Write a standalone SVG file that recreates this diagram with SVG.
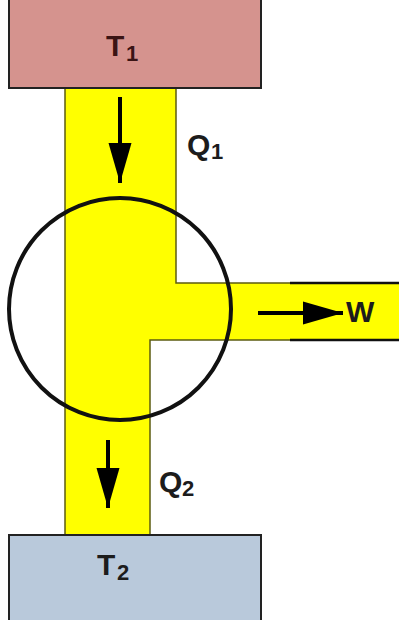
<svg xmlns="http://www.w3.org/2000/svg" width="399" height="620" viewBox="0 0 399 620">
<defs>
<style>
.lbl{font-family:"Liberation Sans",Arial,sans-serif;font-weight:bold;fill:#1c1c1c;font-size:30px}
.sub{font-family:"Liberation Sans",Arial,sans-serif;font-weight:bold;fill:#1c1c1c;font-size:22px}
.band{fill:#ffff00;stroke:none}
.edge{stroke:#5c5c10;stroke-width:1.5;fill:none}
.edgek{stroke:#111;stroke-width:2.5;fill:none}
.arrow{stroke:#000;stroke-width:4;fill:none;marker-end:url(#head)}
.box{stroke:#222;stroke-width:2}
</style>
<marker id="head" markerUnits="userSpaceOnUse" markerWidth="42" markerHeight="24" refX="40" refY="12" orient="auto">
<path d="M0,0.5 L40,12 L0,23.5 z" fill="#000"/>
</marker>
</defs>
<rect width="399" height="620" fill="#fff"/>
<g id="flow">
<path class="band" d="M65,88 H176 V283 H399 V340 H150 V535 H65 Z"/>
<path class="edge" d="M65,88 V535 M176,88 V283 H290 M150,535 V340 H290"/>
<path class="edgek" d="M290,283 H399 M290,340 H399"/>
</g>
<g id="T1">
<rect class="box" x="9" y="-3" width="252" height="91" fill="#d5938e"/>
<text class="lbl" x="106" y="56" style="fill:#3a1414">T</text>
<text class="sub" x="126" y="61" style="fill:#3a1414">1</text>
</g>
<g id="T2">
<rect class="box" x="9" y="535" width="252" height="90" fill="#b9c9db"/>
<text class="lbl" x="97" y="575">T</text>
<text class="sub" x="117" y="580">2</text>
</g>
<g id="engine">
<circle cx="120" cy="309" r="111" fill="none" stroke="#111" stroke-width="4"/>
</g>
<g id="connectors">
<line class="arrow" x1="120" y1="97" x2="120" y2="183"/>
<line class="arrow" x1="108" y1="440" x2="108" y2="508"/>
<line class="arrow" x1="258" y1="313" x2="343" y2="313"/>
</g>
<g id="labels">
<text class="lbl" x="187" y="155">Q</text>
<text class="sub" x="211" y="159">1</text>
<text class="lbl" x="159" y="492">Q</text>
<text class="sub" x="182" y="496">2</text>
<text class="lbl" x="346" y="322">W</text>
</g>
</svg>
